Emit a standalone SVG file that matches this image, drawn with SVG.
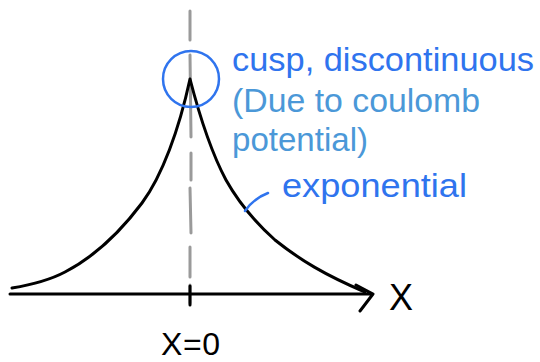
<svg xmlns="http://www.w3.org/2000/svg" width="540" height="362" viewBox="0 0 540 362">
<style>
.ink{fill:none;stroke:#000;stroke-width:3;stroke-linecap:round;stroke-linejoin:round}
.dash{fill:none;stroke:#9a9a9a;stroke-width:3;stroke-linecap:round}
.blue{fill:none;stroke:#2f74ee;stroke-width:2.5;stroke-linecap:round}
.t1{font-family:"Liberation Sans",Arial,sans-serif;font-size:33px;fill:#2f74ee}
.t2{font-family:"Liberation Sans",Arial,sans-serif;font-size:33px;fill:#4b98d8}
.hand{font-family:"Liberation Sans",Arial,sans-serif;fill:#000}
</style>
<rect width="540" height="362" fill="#fff"/>
<g id="guide">
<path class="dash" d="M190,11 L190,40 M190,55 L191,137 M191,153 L191,180 M190,188 L191,233 M190,247 L190,277 M190,285 L190,303"/>
</g>
<g id="curve">
<path class="ink" d="M12,288 C30,285 50,280 65,272 C92,258 118,235 142,203 C162,176 179,130 190,79 C198,110 210,150 226,180 C240,205 255,222 275,240 C300,260 325,275 365,292"/>
</g>
<g id="axis">
<path class="ink" d="M10,294 L372,294 M356,285 L373,294 L360,311"/>
<path class="ink" d="M190,286 L190,305"/>
</g>
<g id="cusp-circle">
<circle cx="191" cy="79" r="28" fill="none" stroke="#2f74ee" stroke-width="2.5"/>
</g>
<g id="connectors">
<path class="blue" d="M245,211 C252,201 260,196 268,193"/>
</g>
<g id="labels">
<text class="t1" x="232" y="71" textLength="302" lengthAdjust="spacingAndGlyphs">cusp, discontinuous</text>
<text class="t2" x="232" y="112" textLength="248" lengthAdjust="spacingAndGlyphs">(Due to coulomb</text>
<text class="t2" x="232" y="151" textLength="136" lengthAdjust="spacingAndGlyphs">potential)</text>
<text class="t1" x="282" y="197" textLength="185" lengthAdjust="spacingAndGlyphs">exponential</text>
<text class="hand" x="389" y="310" font-size="36">X</text>
<text class="hand" x="161" y="355" font-size="32" textLength="59" lengthAdjust="spacing">X=0</text>
</g>
</svg>
